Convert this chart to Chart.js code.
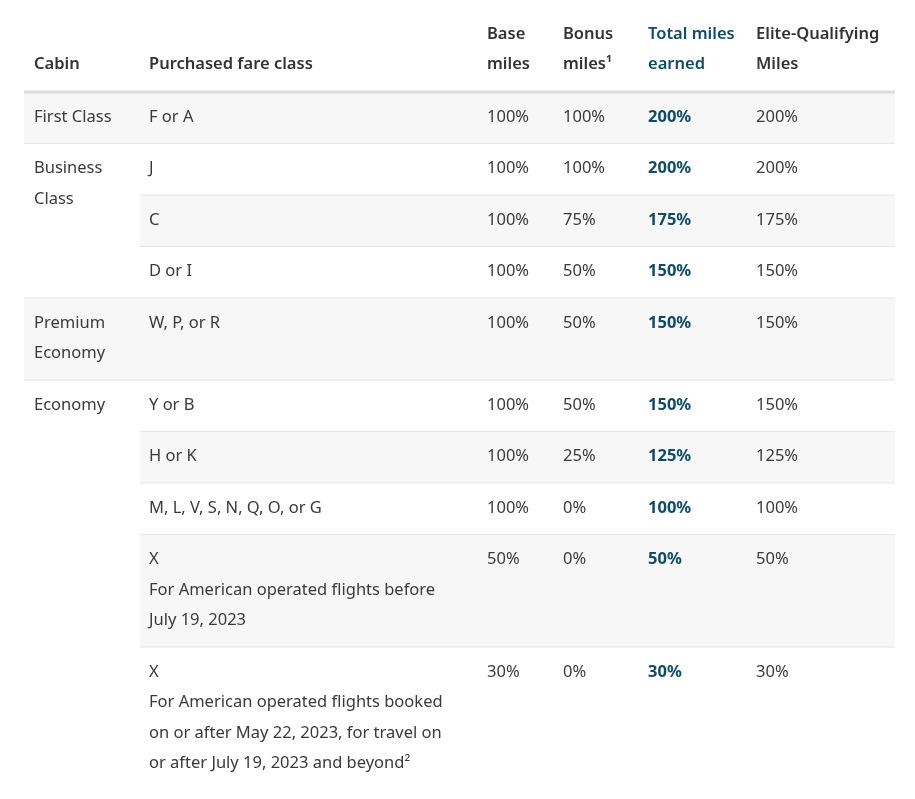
<!DOCTYPE html>
<html><head><meta charset="utf-8">
<script src="https://cdn.jsdelivr.net/npm/chart.js@4"></script>
<style>html,body{margin:0;background:#fff}#w{width:915px;height:799px}</style>
</head><body><div id="w"><canvas id="c"></canvas></div>
<script>
const headers=[["Cabin"],["Purchased fare class"],["Base","miles"],["Bonus","miles¹"],["Total miles","earned"],["Elite-Qualifying","Miles"]];
const cabins=[["First Class"],["Business","Class"],null,null,["Premium","Economy"],["Economy"],null,null,null,null];
const cabinSpan=[1,3,0,0,1,5,0,0,0,0];
const fares=[["F or A"],["J"],["C"],["D or I"],["W, P, or R"],["Y or B"],["H or K"],["M, L, V, S, N, Q, O, or G"],
 ["X","For American operated flights before","July 19, 2023"],
 ["X","For American operated flights booked","on or after May 22, 2023, for travel on","or after July 19, 2023 and beyond²"]];
const baseMiles=[100,100,100,100,100,100,100,100,50,30];
const bonusMiles=[100,100,75,50,50,50,25,0,0,0];
const totalMiles=[200,200,175,150,150,150,125,100,50,30];
const eqMiles=[200,200,175,150,150,150,125,100,50,30];

const X0=24,X1=895,colX=[34,149,487,563,648,756],HEAD=92,LINE=30.5,PAD=21;
const FONT='"Noto Sans", sans-serif';
const tablePlugin={id:'table',afterDraw(ch){
 const c=ch.ctx,xs=ch.scales.x,ys=ch.scales.y,px=v=>xs.getPixelForValue(v),py=v=>ys.getPixelForValue(v);
 c.save();c.textBaseline='middle';
 let tops=[],y=HEAD;
 fares.forEach((f,i)=>{tops.push(y);
  const n=Math.max(f.length,cabinSpan[i]===1?cabins[i].length:1);
  y+=PAD+n*LINE;});tops.push(y);
 fares.forEach((f,i)=>{
  const t=tops[i],b=tops[i+1];
  if(i%2===0){c.fillStyle='#f7f7f7';const sx=cabinSpan[i]===1?X0:colX[1]-9;c.fillRect(px(sx),py(t),px(X1)-px(sx),py(b)-py(t));}
 });
 c.fillStyle='#e6e6e6';
 for(let i=1;i<fares.length;i++){const sx=cabinSpan[i]===0?colX[1]-9:X0;c.fillRect(px(sx),py(tops[i])-0.5,px(X1)-px(sx),1);}
 c.fillStyle='#dcdcdc';c.fillRect(px(X0),py(HEAD)-1.5,px(X1)-px(X0),3);
 c.font='600 16.5px '+FONT;
 headers.forEach((h,j)=>{c.fillStyle=j===4?'#0e4b6b':'#333';
  const st=h.length===1?64:34;h.forEach((l,k)=>c.fillText(l,px(colX[j]),py(st+k*30)));});
 const nf='16.5px '+FONT;c.font=nf;
 fares.forEach((f,i)=>{
  const t=tops[i]+25;
  c.fillStyle='#3a3a3a';
  if(cabins[i])cabins[i].forEach((l,k)=>c.fillText(l,px(colX[0]),py(t+k*LINE)));
  f.forEach((l,k)=>c.fillText(l,px(colX[1]),py(t+k*LINE)));
  c.fillText(baseMiles[i]+'%',px(colX[2]),py(t));
  c.fillText(bonusMiles[i]+'%',px(colX[3]),py(t));
  c.fillText(eqMiles[i]+'%',px(colX[5]),py(t));
  c.font='700 16.5px '+FONT;c.fillStyle='#0e4b6b';
  c.fillText(totalMiles[i]+'%',px(colX[4]),py(t));
  c.font=nf;
 });
 c.restore();
}};
new Chart(document.getElementById('c'),{type:'scatter',data:{datasets:[{data:[]}]},
 options:{responsive:true,maintainAspectRatio:false,animation:false,
  layout:{padding:0},plugins:{legend:{display:false},tooltip:{enabled:false}},
  scales:{x:{type:'linear',min:0,max:915,display:false},y:{type:'linear',min:0,max:799,reverse:true,display:false}}},
 plugins:[tablePlugin]});
</script></body></html>
